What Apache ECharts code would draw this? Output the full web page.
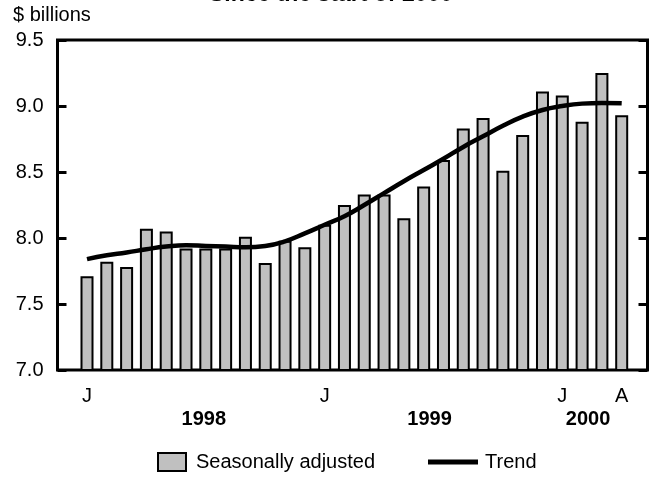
<!DOCTYPE html>
<html><head><meta charset="utf-8">
<script src="https://cdn.jsdelivr.net/npm/echarts@6/dist/echarts.min.js"></script>
<style>html,body{margin:0;padding:0;background:#fff}#c{width:651px;height:482px}</style>
</head><body><div id="c"></div>
<script>
// ---- data ----
const months = ['Jan 1998','Feb 1998','Mar 1998','Apr 1998','May 1998','Jun 1998','Jul 1998','Aug 1998','Sep 1998','Oct 1998','Nov 1998','Dec 1998',
  'Jan 1999','Feb 1999','Mar 1999','Apr 1999','May 1999','Jun 1999','Jul 1999','Aug 1999','Sep 1999','Oct 1999','Nov 1999','Dec 1999',
  'Jan 2000','Feb 2000','Mar 2000','Apr 2000'];
const seasonallyAdjusted = [7.71,7.82,7.78,8.07,8.05,7.92,7.92,7.92,8.01,7.81,7.98,7.93,
  8.10,8.25,8.33,8.33,8.15,8.39,8.59,8.83,8.91,8.51,8.78,9.11,
  9.08,8.88,9.25,8.93];
const trend = [7.84,7.87,7.89,7.915,7.935,7.945,7.94,7.935,7.93,7.94,7.975,8.035,
  8.10,8.165,8.25,8.34,8.43,8.515,8.60,8.69,8.77,8.85,8.92,8.97,
  9.00,9.018,9.023,9.02];
const tickIndex = [0, 12, 24, 27];
const tickText = ['J', 'J', 'J', 'A'];
const yearLabels = ['1998', '1999', '2000'];
const yTickMin = 7.0, yTickMax = 9.5, yTickStep = 0.5;

// ---- layout ----
const FONT = '"Liberation Sans", Arial, Helvetica, sans-serif';
const yearPos = [5.9, 17.3, 25.3];

const chart = echarts.init(document.getElementById('c'), null, {renderer: 'canvas'});
const yTickCommon = {
  type: 'value', gridIndex: 0, min: yTickMin, max: yTickMax, interval: yTickStep,
  axisLine: {show: false},
  axisTick: {show: true, inside: true, length: 9, lineStyle: {color: '#000', width: 3}},
  splitLine: {show: false}
};
chart.setOption({
  animation: false,
  textStyle: {fontFamily: FONT},
  grid: [
    {left: 57.5, right: 3.5, top: 40, bottom: 112, show: true, borderColor: '#000', borderWidth: 3, backgroundColor: 'transparent'},
    {left: 77.1, right: 19.4, top: 40, bottom: 112}
  ],
  xAxis: [
    {gridIndex: 0, type: 'value', min: 0, max: 1, show: false},
    {gridIndex: 1, type: 'category', data: months, boundaryGap: true,
      axisLine: {show: false}, axisTick: {show: false},
      axisLabel: {interval: 0, fontSize: 20, color: '#000', fontFamily: FONT, margin: 16,
        formatter: function (v, i) { const k = tickIndex.indexOf(i); return k >= 0 ? tickText[k] : ''; }}},
    {gridIndex: 1, type: 'value', min: -0.5, max: months.length - 0.5, show: false}
  ],
  yAxis: [
    Object.assign({}, yTickCommon, {position: 'left',
      axisLabel: {fontSize: 20, color: '#000', fontFamily: FONT, margin: 14, formatter: v => v.toFixed(1)}}),
    Object.assign({}, yTickCommon, {position: 'right', axisLabel: {show: false}}),
    {gridIndex: 1, type: 'value', min: yTickMin, max: yTickMax, show: false}
  ],
  legend: [
    {data: [{name: 'Seasonally adjusted', icon: 'rect'}], left: 157, top: 452, padding: 0, itemWidth: 28, itemHeight: 18, itemGap: 0,
      selectedMode: false, textStyle: {fontSize: 20, color: '#000', fontFamily: FONT, padding: [0, 0, 0, 5]}},
    {data: [{name: 'Trend', icon: 'rect'}], left: 428, top: 452, padding: 0, itemWidth: 50, itemHeight: 5, itemGap: 0,
      selectedMode: false, textStyle: {fontSize: 20, color: '#000', fontFamily: FONT, padding: [0, 0, 0, 2]}}
  ],
  series: [
    {name: 'Seasonally adjusted', type: 'bar', xAxisIndex: 1, yAxisIndex: 2, data: seasonallyAdjusted,
      barWidth: 13, itemStyle: {color: '#c0c0c0', borderColor: '#000', borderWidth: 2}, z: 2},
    {name: 'Trend', type: 'line', xAxisIndex: 1, yAxisIndex: 2, data: trend, smooth: true,
      symbol: 'none', lineStyle: {color: '#000', width: 4.5}, itemStyle: {color: '#000'}, z: 3}
  ]
});

const graphics = [
  {type: 'text', x: 331, y: -5, style: {text: 'Since the start of 2000', font: 'bold 23px ' + FONT, fill: '#000', textAlign: 'center', textVerticalAlign: 'middle'}},
  {type: 'text', x: 13, y: 15, style: {text: '$ billions', font: '20px ' + FONT, fill: '#000', textAlign: 'left', textVerticalAlign: 'middle'}}
];
yearLabels.forEach(function (t, i) {
  const px = chart.convertToPixel({xAxisIndex: 2}, yearPos[i]);
  graphics.push({type: 'text', x: px, y: 419, style: {text: t, font: 'bold 20px ' + FONT, fill: '#000', textAlign: 'center', textVerticalAlign: 'middle'}});
});
chart.setOption({graphic: graphics});
</script>
</body></html>
